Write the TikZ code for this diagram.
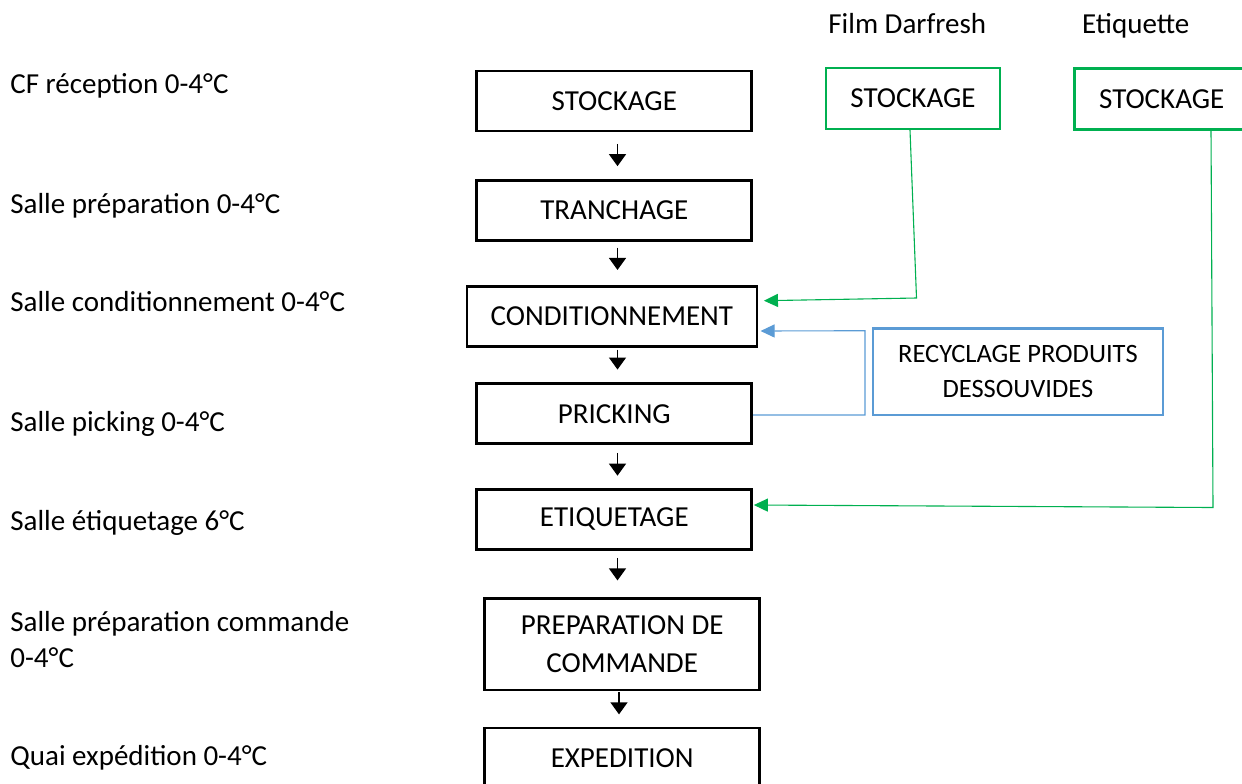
\documentclass[tikz,border=0pt]{standalone}
\usepackage{fontspec}
\setmainfont{Carlito}
\usetikzlibrary{arrows.meta,calc}
\definecolor{supplygreen}{HTML}{00B050}
\definecolor{recycleblue}{HTML}{5B9BD5}

\begin{document}
\begin{tikzpicture}[x=0.5pt,y=-0.5pt,
  every node/.style={font=\fontsize{14.5}{19.3}\selectfont, inner sep=0pt},
  procbox/.style={draw=black, line width=1.35pt, minimum width=137.5pt,
                  minimum height=30pt, align=center},
  supbox/.style={draw=supplygreen, line width=1.25pt, minimum width=87pt,
                 minimum height=30.5pt},
  recbox/.style={draw=recycleblue, line width=1.25pt, minimum width=145pt,
                 minimum height=43.25pt, align=center,
                 font=\fontsize{13.25}{17.7}\selectfont},
  roomlabel/.style={anchor=base west, align=left,
                    font=\fontsize{14.5}{18}\selectfont},
  flow/.style={-{Triangle[length=6pt,width=8.5pt]}, line width=0.65pt},
  feedgreen/.style={draw=supplygreen, line width=0.55pt,
                    -{Triangle[length=7pt,width=6.5pt]}},
  feedblue/.style={draw=recycleblue, line width=0.55pt,
                   -{Triangle[length=7pt,width=6.5pt]}},
]
\useasboundingbox (0,0) rectangle (1242,783);

% rooms (multi-line labels sit on the baseline of their last line)
\node[roomlabel] (r1) at (10,93.3)  {CF réception 0-4°C};
\node[roomlabel] (r2) at (10,213.3) {Salle préparation 0-4°C};
\node[roomlabel] (r3) at (10,311)   {Salle conditionnement 0-4°C};
\node[roomlabel] (r4) at (10,431)   {Salle picking 0-4°C};
\node[roomlabel] (r5) at (10,530)   {Salle étiquetage 6°C};
\node[roomlabel] (r6) at (10,667)   {Salle préparation commande\\0-4°C};
\node[roomlabel] (r7) at (10,765.7) {Quai expédition 0-4°C};

% main process column
\node[procbox] (stock)  at (614.3,101)   {STOCKAGE};
\node[procbox] (tranch) at (614.3,210.5) {TRANCHAGE};
\node[procbox, minimum width=145pt] (cond) at (611.9,316.3) {CONDITIONNEMENT};
\node[procbox] (prick)  at (614.3,413.7) {PRICKING};
\node[procbox] (etiq)   at (614.3,519.3) {ETIQUETAGE};
\node[procbox, minimum height=45.75pt] (prep) at (622.2,644.3) {PREPARATION DE\\COMMANDE};
\node[procbox] (exped)  at (622.2,758)   {EXPEDITION};

% supplies
\node[anchor=base west] (lfilm) at (828,33.3)   {Film Darfresh};
\node[anchor=base west] (letiq) at (1081.7,33)  {Etiquette};
\node[supbox] (darf)  at (913,98.3)    {STOCKAGE};
\node[supbox] (etiqS) at (1161.7,99)   {STOCKAGE};
\node[recbox] (recyc) at (1017.9,371.75) {RECYCLAGE PRODUITS\\DESSOUVIDES};

% flow arrows
\coordinate (colx) at (617.5,0);
\coordinate (colx2) at (619,0);
\draw[flow] ($(stock.south -| colx)+(0,11.5)$)  -- ($(tranch.north -| colx)+(0,-13)$);
\draw[flow] ($(tranch.south -| colx)+(0,5.7)$)  -- ($(cond.north -| colx)+(0,-15)$);
\draw[flow] ($(cond.south -| colx)+(0,2)$)      -- ($(prick.north -| colx)+(0,-12.8)$);
\draw[flow] ($(prick.south -| colx)+(0,7.7)$)   -- ($(etiq.north -| colx)+(0,-12.3)$);
\draw[flow] ($(etiq.south -| colx)+(0,7.2)$)    -- ($(prep.north -| colx)+(0,-16.8)$);
\draw[flow] ($(prep.south -| colx2)+(0,1)$)     -- ($(exped.north -| colx2)+(0,-12.3)$);

% film supply to packaging
\coordinate (fbend) at (916.5,298);
\draw[feedgreen] ($(darf.south)+(-3,0)$) -- (fbend) -- ($(cond.east)+(5.7,-15.6)$);

% label supply to labelling
\coordinate (ebend) at (1213,507.5);
\draw[feedgreen] ($(etiqS.south)+(49.3,0)$) -- (ebend) -- ($(etiq.east)+(0.7,-14.3)$);

% recycling loop back to packaging
\coordinate (bA) at (865,415);
\coordinate (bB) at (865,330.7);
\draw[feedblue] ($(prick.east)+(0,1.3)$) -- (bA) -- (bB) -- ($(cond.east)+(2.3,14.7)$);
\end{tikzpicture}
\end{document}
